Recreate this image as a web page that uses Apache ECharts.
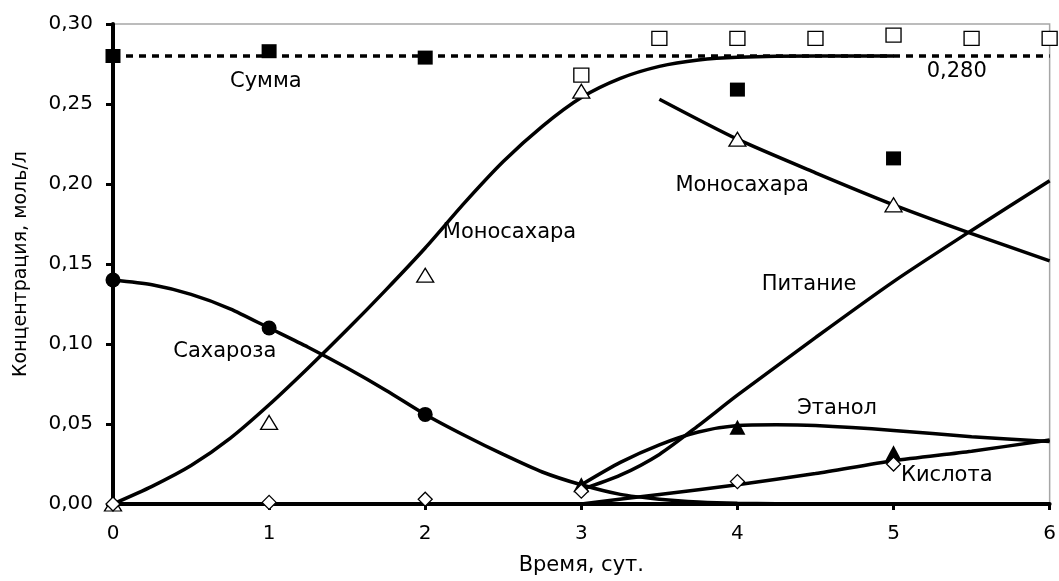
<!DOCTYPE html>
<html>
<head>
<meta charset="utf-8">
<script src="https://cdn.jsdelivr.net/npm/echarts@6/dist/echarts.min.js"></script>
<style>
html,body{margin:0;padding:0;background:#fff;}
#chart{width:1059px;height:581px;}
</style>
</head>
<body>
<div id="chart"></div>
<script>
// ---- data ----
const xTicks = [0, 1, 2, 3, 4, 5, 6];
const yTicks = [0, 0.05, 0.10, 0.15, 0.20, 0.25, 0.30];

// fitted curves
const sucroseCurve = [[0,0.140],[0.25,0.137],[0.5,0.131],[0.75,0.122],[1,0.110],[1.25,0.098],[1.5,0.085],[1.75,0.071],[2,0.056],[2.25,0.043],[2.5,0.031],[2.75,0.020],[3,0.012],[3.25,0.006],[3.5,0.003],[3.75,0.0012],[4,0.0004],[4.5,0],[5,0],[6,0]];
const monoRiseCurve = [[0,0],[0.25,0.011],[0.5,0.024],[0.75,0.041],[1,0.062],[1.25,0.085],[1.5,0.109],[1.75,0.134],[2,0.160],[2.25,0.188],[2.5,0.214],[2.75,0.236],[3,0.254],[3.25,0.266],[3.5,0.2735],[3.75,0.2775],[4,0.2792],[4.5,0.280],[5,0.280]];
const monoFallCurve = [[3.5,0.253],[4,0.228],[4.5,0.207],[5,0.187],[5.5,0.169],[6,0.152]];
const feedCurve = [[3,0.009],[3.25,0.018],[3.5,0.031],[3.75,0.049],[4,0.068],[4.5,0.104],[5,0.139],[5.5,0.171],[6,0.202]];
const ethanolCurve = [[3,0.012],[3.25,0.026],[3.5,0.037],[3.75,0.045],[4,0.049],[4.25,0.0495],[4.5,0.049],[5,0.046],[5.5,0.042],[6,0.039]];
const acidCurve = [[3,0],[3.5,0.006],[4,0.012],[4.5,0.019],[5,0.027],[5.5,0.033],[6,0.040]];
const sumLevel = [[0,0.280],[6,0.280]];

// measured points
const sumFilledPts = [[0,0.280],[1,0.283],[2,0.279],[4,0.259],[5,0.216]];
const sumOpenPts = [[3,0.268],[3.5,0.291],[4,0.291],[4.5,0.291],[5,0.293],[5.5,0.291],[6,0.291]];
const monoPts = [[0,0],[1,0.051],[2,0.143],[3,0.258],[4,0.228],[5,0.187]];
const sucrosePts = [[0,0.140],[1,0.110],[2,0.056]];
const ethanolPts = [[3,0.012],[4,0.048],[5,0.032]];
const acidPts = [[0,0],[1,0.001],[2,0.003],[3,0.008],[4,0.014],[5,0.025]];

// annotation texts and anchors (data units)
const noteTexts = ['Сумма','0,280','Моносахара','Моносахара','Сахароза','Питание','Этанол','Кислота'];
const noteAnchors = [[0.979,0.264],[5.405,0.2704],[2.54,0.1696],[4.03,0.1993],[0.716,0.0953],[4.459,0.1374],[4.638,0.0594],[5.341,0.0179]];

// ---- chart ----
const FONT = 'DejaVu Sans';
const chart = echarts.init(document.getElementById('chart'));

function curve(data){
  return {type:'line', data:data, smooth:0.25, symbol:'none', z:3,
    lineStyle:{color:'#000', width:3.5}, silent:true, clip:false};
}
function pts(data, symbol, size, fill, border){
  return {type:'scatter', data:data, symbol:symbol, symbolSize:size, z:5, clip:false, silent:true,
    itemStyle:{color:fill, borderColor:'#000', borderWidth:border, opacity:1}};
}

const notes = noteTexts.map((t,i)=>({value:noteAnchors[i], name:t}));

const option = {
  animation:false,
  backgroundColor:'#fff',
  textStyle:{fontFamily:FONT},
  grid:{left:113, right:8, top:24, bottom:72, show:true, borderColor:'#a6a6a6', borderWidth:1.5, backgroundColor:'transparent'},
  xAxis:{
    type:'value', min:xTicks[0], max:xTicks[xTicks.length-1], interval:1,
    name:'Время, сут.', nameLocation:'middle', nameGap:51,
    nameTextStyle:{color:'#000', fontSize:21, fontFamily:FONT},
    axisLine:{show:true, onZero:false, lineStyle:{color:'#000', width:4}},
    axisTick:{show:true, inside:false, length:6, lineStyle:{color:'#000', width:3}},
    axisLabel:{color:'#000', fontSize:20, fontFamily:FONT, margin:20, formatter:v=>String(v)},
    splitLine:{show:false}
  },
  yAxis:{
    type:'value', min:yTicks[0], max:yTicks[yTicks.length-1], interval:0.05,
    name:'Концентрация, моль/л', nameLocation:'middle', nameGap:82, nameRotate:90,
    nameTextStyle:{color:'#000', fontSize:19, fontFamily:FONT},
    axisLine:{show:true, onZero:false, lineStyle:{color:'#000', width:4}},
    axisTick:{show:true, inside:false, length:7, lineStyle:{color:'#000', width:3}},
    axisLabel:{color:'#000', fontSize:20, fontFamily:FONT, margin:20, formatter:v=>v.toFixed(2).replace('.',',')},
    splitLine:{show:false}
  },
  series:[
    {type:'line', data:sumLevel, symbol:'none', z:2, silent:true, clip:false,
      lineStyle:{color:'#000', width:3.5, type:[7,6]}},
    curve(sucroseCurve),
    curve(monoRiseCurve),
    curve(monoFallCurve),
    curve(feedCurve),
    curve(ethanolCurve),
    curve(acidCurve),
    pts(monoPts, 'triangle', [17,14], '#fff', 1.3),
    pts(sumOpenPts, 'rect', [15,14], '#fff', 1.3),
    pts(sumFilledPts, 'rect', [15,14], '#000', 0),
    pts(sucrosePts, 'circle', 15, '#000', 0),
    pts(ethanolPts, 'triangle', [16,15], '#000', 0),
    pts(acidPts, 'diamond', [14,14], '#fff', 1.3),
    {type:'scatter', data:notes, symbolSize:1, z:6, silent:true, clip:false,
      itemStyle:{color:'rgba(0,0,0,0)', opacity:1},
      label:{show:true, position:'inside', formatter:p=>p.name, color:'#000', fontSize:21, fontFamily:FONT}}
  ]
};
chart.setOption(option);
</script>
</body>
</html>
